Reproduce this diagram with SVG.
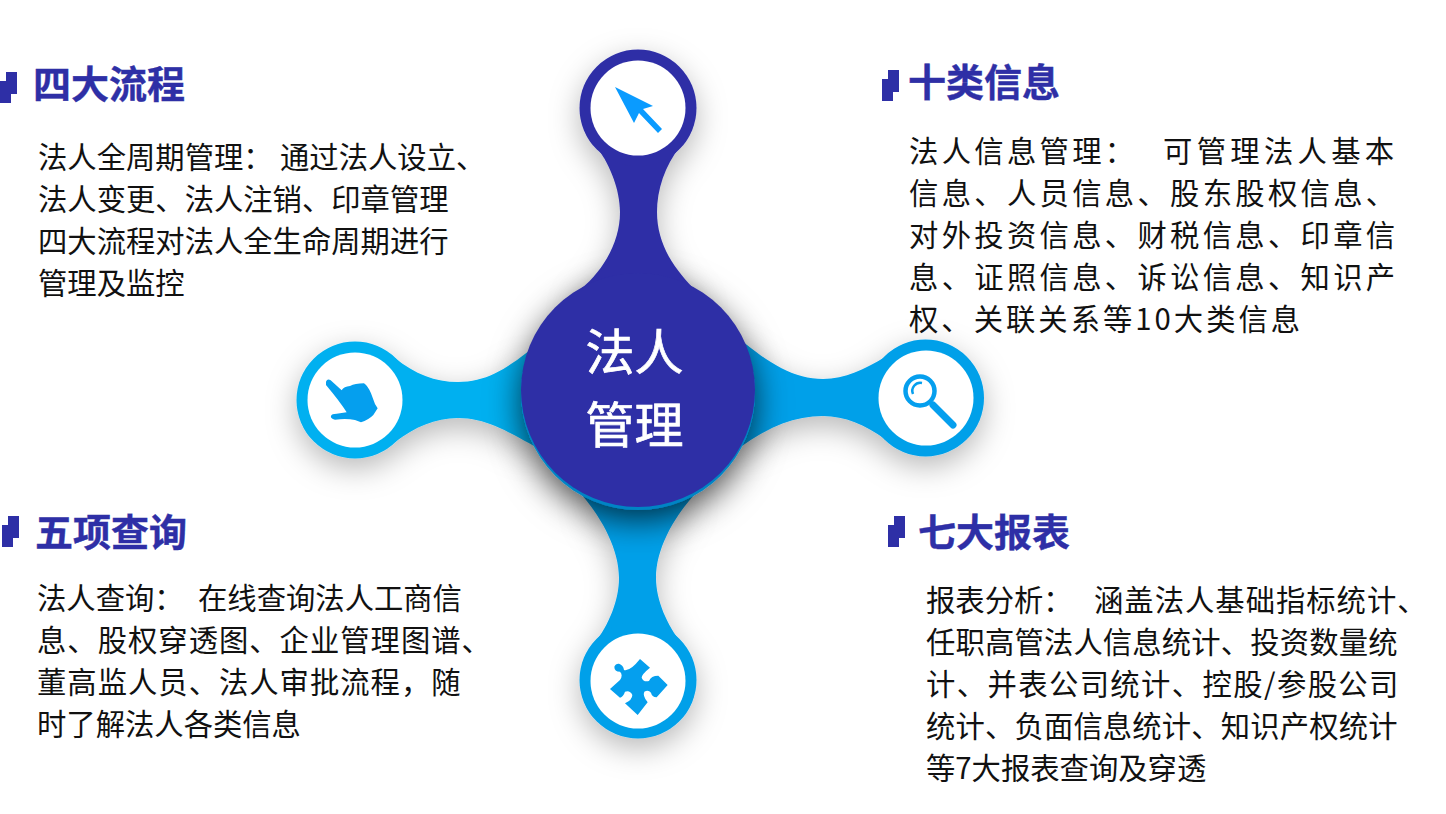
<svg xmlns="http://www.w3.org/2000/svg" width="1446" height="814" viewBox="0 0 1446 814">
<style>
text{font-family:"Noto Sans CJK SC","Noto Sans",sans-serif}
.h{font-size:38px;font-weight:700;fill:#2e2fa6;stroke:#2e2fa6;stroke-width:.4px}
.b{font-size:29.330px;fill:#111}
.w{font-size:29.330px;fill:#111;letter-spacing:3.3px}
.c{font-size:49px;fill:#fff;stroke:#fff;stroke-width:.7px;letter-spacing:0}
.i{fill:#fff}
.navy{fill:#2e2fa6}
.sky{fill:#00b0f0}
.blue{fill:#00a0e9}
.ic{fill:#059fee}
</style>
<defs>
<filter id="sh" x="-60%" y="-60%" width="220%" height="220%"><feDropShadow dx="0" dy="10" stdDeviation="15" flood-color="#000" flood-opacity=".28"/></filter>
<filter id="shc" x="-50%" y="-50%" width="200%" height="200%"><feDropShadow dx="0" dy="10" stdDeviation="17" flood-color="#000" flood-opacity=".72"/></filter>
<polygon id="mk" points="6,0 17,0 17,22 11,22 11,31 0,31 0,9 6,9" fill="#2e2fa6"/>
</defs>
<rect width="1446" height="814" fill="#fff"/>
<g id="connectors">
<g filter="url(#sh)" class="blue"><path d="M582,495C603,520 619,550 619,578C619,600 609,625 594,644L682,644C667,625 656,600 656,578C656,550 672,520 694,495Z"/><circle cx="638" cy="680" r="58.500"/></g>
<g filter="url(#sh)" class="sky"><path d="M395,358C415,374 435,382 458,382C485,382 505,370 530,350L534,446C505,430 485,418 458,418C435,418 415,427 395,442Z"/><circle cx="355" cy="400" r="58.500"/></g>
<g filter="url(#sh)" class="blue"><path d="M735,335C770,365 795,379 823,379C845,379 865,369 885,357L885,439C865,425 845,416 823,416C795,416 770,426 742,446Z"/><circle cx="925.500" cy="398" r="58.500"/></g>
<circle cx="638" cy="393" r="117" fill="#0084c4" filter="url(#shc)"/>
<g filter="url(#sh)" class="navy"><path d="M598,149C610,165 620,190 620,212C620,245 600,275 577,292L580,330L697,330L697,292C675,270 657,245 657,212C657,190 665,165 680,147Z"/><circle cx="638" cy="108" r="58.500"/></g>
</g>
<g id="node-center"><circle class="navy" cx="638" cy="390" r="117"/><text class="c" x="585.500" y="370">法人</text><text class="c" x="585.500" y="443">管理</text></g>
<g id="node-top"><circle class="i" cx="638" cy="108" r="47.500"/><polygon fill="#0a9bff" points="615,87 653,106 643,109 662,129 658,133 639,113 634,123"/></g>
<g id="node-left"><circle class="i" cx="355" cy="400" r="47.500"/><path class="ic" transform="translate(290 335) scale(.3333)" d="M108,140Q112,130 122,136L155,166Q162,154 180,153Q195,146 222,145Q235,155 243,175L255,207L263,220L250,240Q235,255 213,262L195,255Q170,250 135,254Q120,250 123,243Q125,236 140,236L170,232Q150,200 108,150Z"/></g>
<g id="node-right"><circle class="i" cx="926" cy="398" r="47.500"/><circle cx="920" cy="391" r="14.500" fill="none" stroke="#059fee" stroke-width="4.500"/><path d="M933,405L953,425" stroke="#059fee" stroke-width="7" stroke-linecap="round" fill="none"/><path d="M913,394A8,8 0 0 1 922,383" stroke="#059fee" stroke-width="2.500" fill="none"/></g>
<g id="node-bottom"><circle class="i" cx="638" cy="681" r="47.500"/><path class="ic" transform="translate(575 625) scale(.3333)" d="M195,102L225,128Q200,148 200,158Q205,172 222,168Q228,152 250,152L278,180L245,217Q230,215 228,203Q220,193 208,200Q202,212 218,232L188,270L150,235Q172,225 172,210Q165,195 150,200Q145,215 135,218L105,192L135,165Q145,150 135,140Q118,140 118,125Q122,115 132,116Q145,120 147,135Q165,140 195,102Z"/></g>
<g id="node-tl"><use href="#mk" x="0" y="72"/><text class="h" x="33" y="98">四大流程</text>
<text class="b"><tspan x="38" y="167.500">法人全周期管理：</tspan><tspan x="280" y="167.500">通过法人设立、</tspan><tspan x="38" y="209.500">法人变更、法人注销、印章管理</tspan><tspan x="38" y="251.500">四大流程对法人全生命周期进行</tspan><tspan x="38" y="293.500">管理及监控</tspan></text></g>
<g id="node-tr"><use href="#mk" x="882" y="70"/><text class="h" x="908" y="96">十类信息</text>
<text class="w"><tspan x="909" y="162">法人信息管理：</tspan><tspan x="1163" y="162" style="letter-spacing:4.300px">可管理法人基本</tspan><tspan x="909" y="204">信息、人员信息、股东股权信息、</tspan><tspan x="909" y="246">对外投资信息、财税信息、印章信</tspan><tspan x="909" y="288">息、证照信息、诉讼信息、知识产</tspan><tspan x="909" y="330" style="letter-spacing:3px">权、关联关系等10大类信息</tspan></text></g>
<g id="node-bl"><use href="#mk" x="2" y="516"/><text class="h" x="35" y="546">五项查询</text>
<text class="b"><tspan x="37" y="609">法人查询：</tspan><tspan x="198" y="609">在线查询法人工商信</tspan><tspan x="37" y="651" style="letter-spacing:1px">息、股权穿透图、企业管理图谱、</tspan><tspan x="37" y="693" style="letter-spacing:1px">董高监人员、法人审批流程，随</tspan><tspan x="37" y="735">时了解法人各类信息</tspan></text></g>
<g id="node-br"><use href="#mk" x="888" y="516"/><text class="h" x="918" y="546">七大报表</text>
<text class="b"><tspan x="926" y="611">报表分析：</tspan><tspan x="1094" y="611" style="letter-spacing:1px">涵盖法人基础指标统计、</tspan><tspan x="926" y="653" style="letter-spacing:.15px">任职高管法人信息统计、投资数量统</tspan><tspan x="926" y="695" style="letter-spacing:1.400px">计、并表公司统计、控股/参股公司</tspan><tspan x="926" y="737" style="letter-spacing:.15px">统计、负面信息统计、知识产权统计</tspan><tspan x="926" y="779">等7大报表查询及穿透</tspan></text></g>
</svg>
